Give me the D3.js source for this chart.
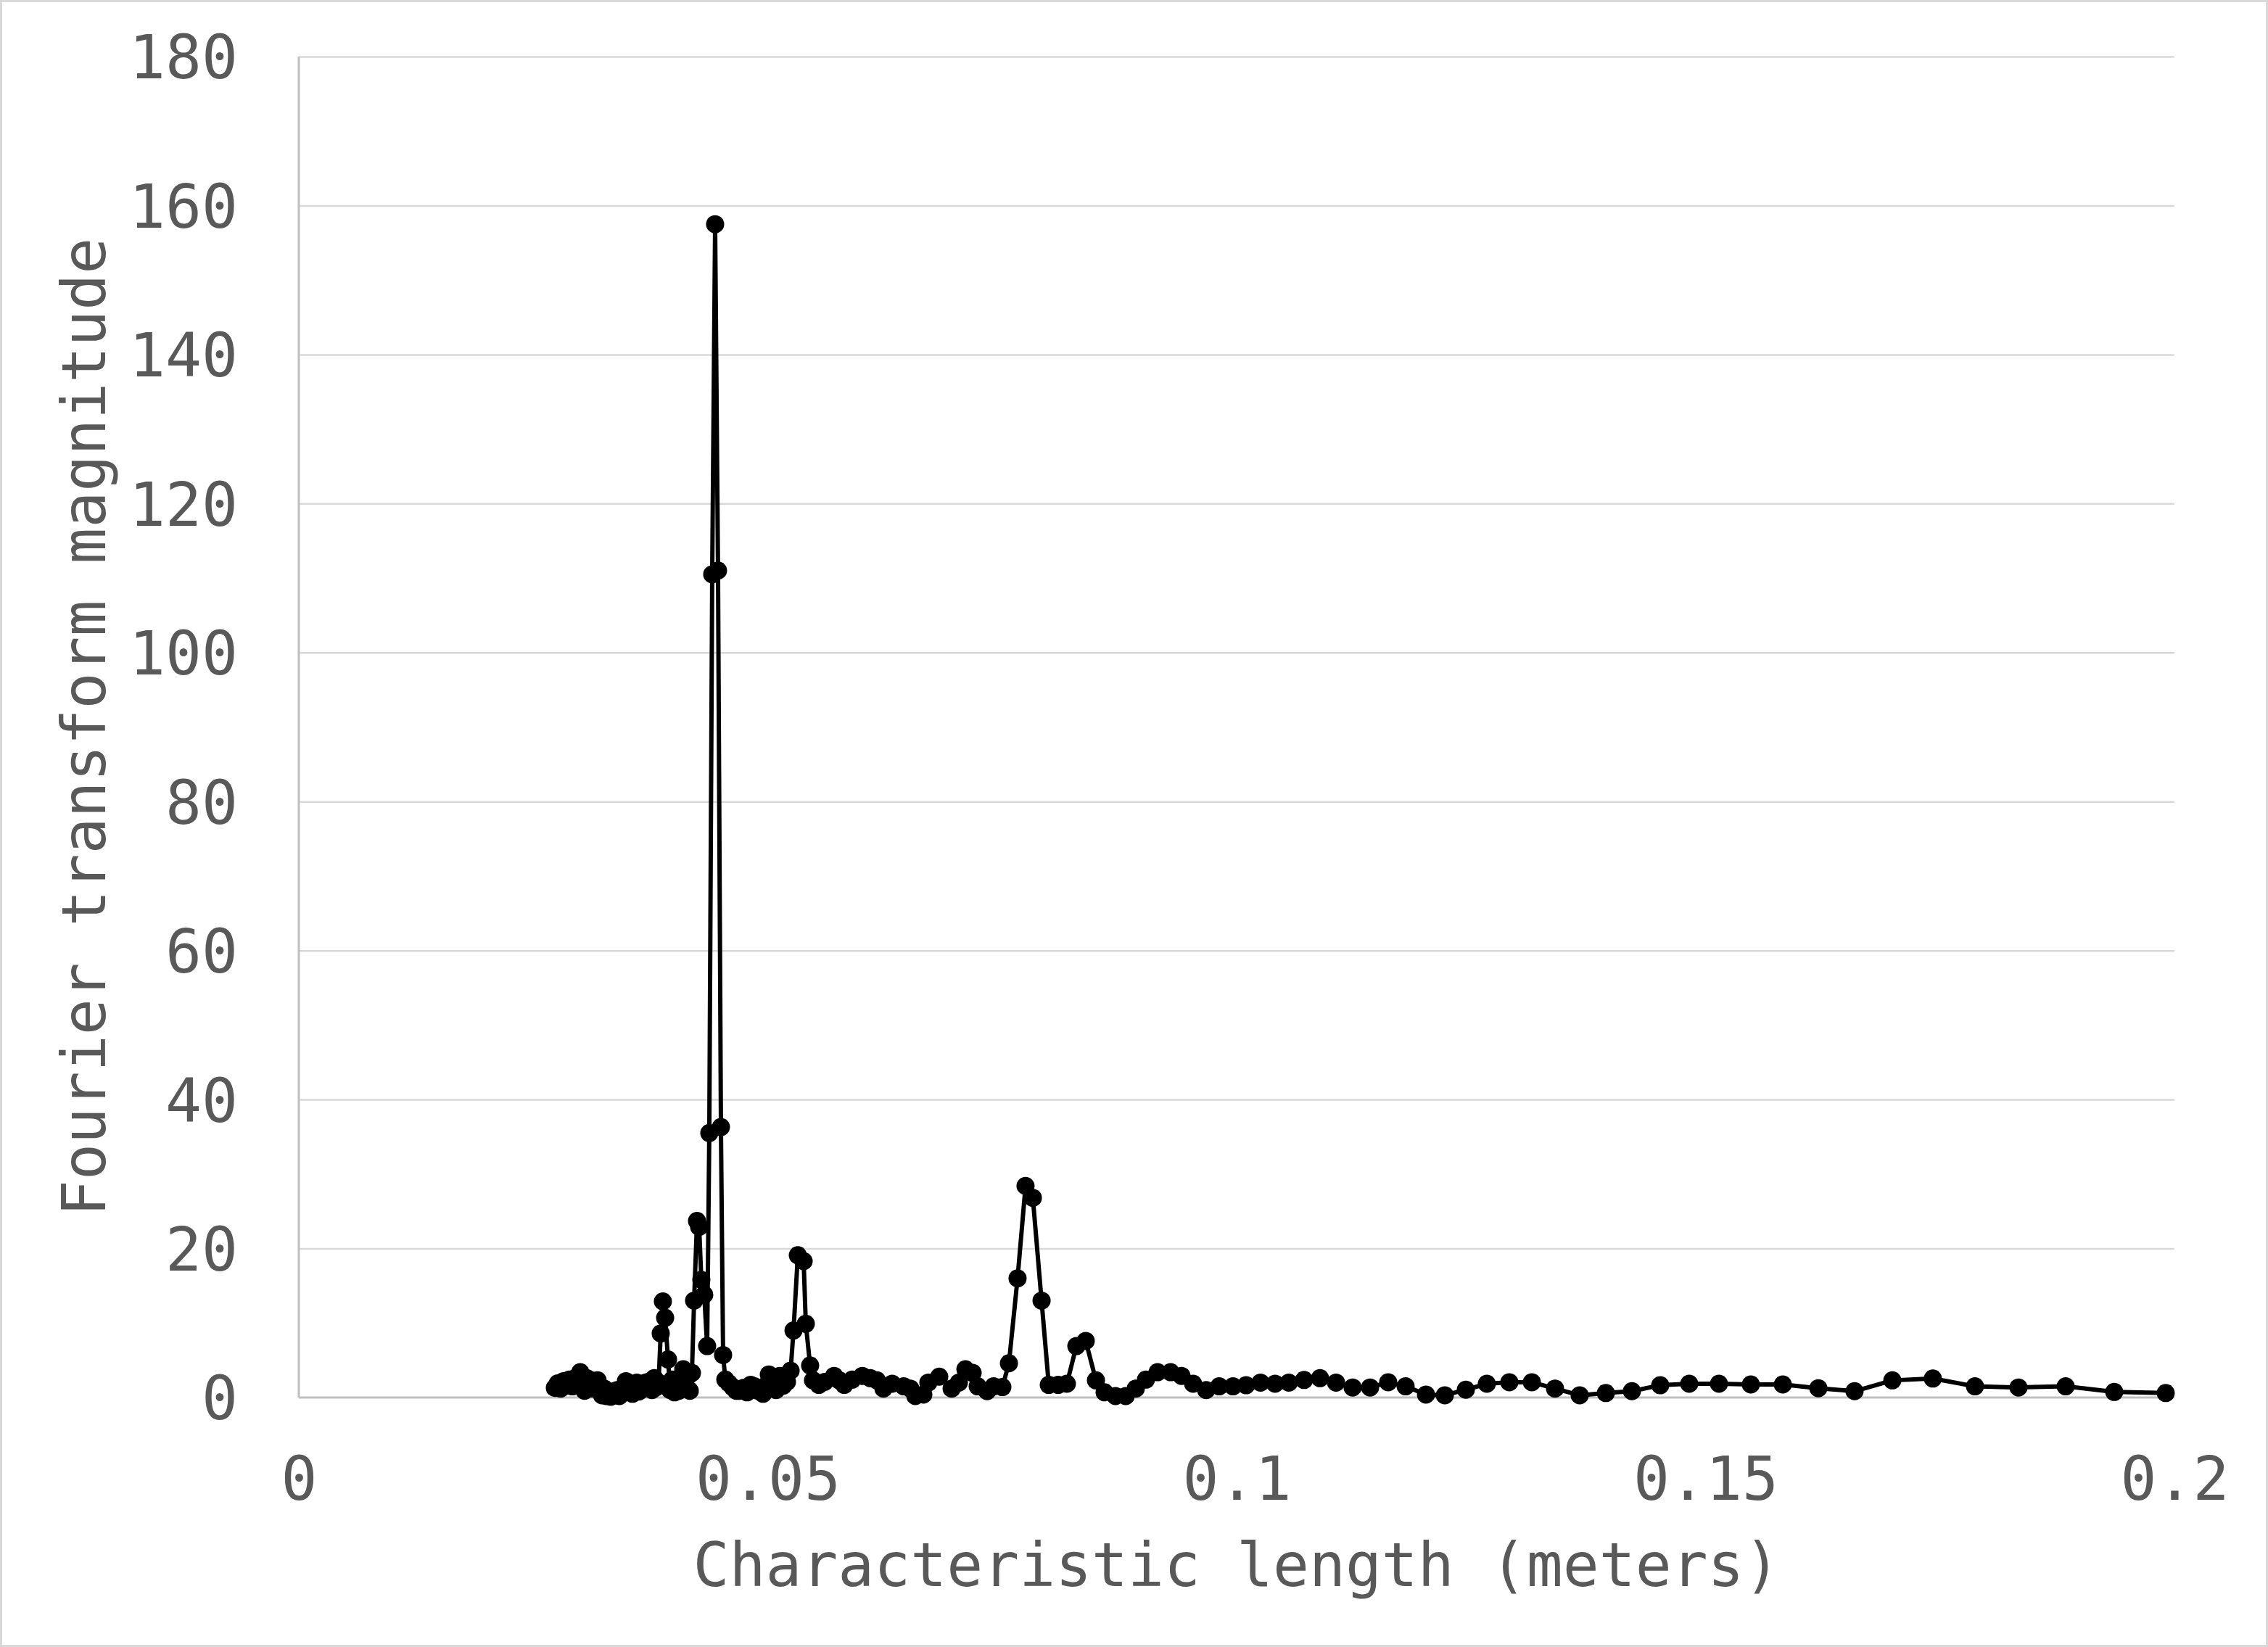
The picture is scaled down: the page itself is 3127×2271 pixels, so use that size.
<!DOCTYPE html>
<html>
<head>
<meta charset="utf-8">
<script src="https://cdn.jsdelivr.net/npm/d3@7"></script>
<style>
  html, body { margin: 0; padding: 0; background: #ffffff; }
  svg { display: block; }
</style>
</head>
<body>
<svg id="chart" width="3127" height="2271"></svg>
<script>
// Characteristic length (meters)
const lengths = [
  0.02730,0.02761,0.02792,0.02823,0.02854,0.02885,0.02916,0.02947,0.02978,
  0.03001,0.03024,0.03047,0.03070,0.03094,0.03117,0.03140,0.03163,0.03186,0.03210,
  0.03233,0.03256,0.03279,0.03302,0.03326,0.03349,0.03372,0.03395,0.03418,0.03442,
  0.03465,0.03488,0.03511,0.03534,0.03558,0.03581,0.03604,0.03627,0.03650,0.03674,
  0.03697,0.03720,0.03743,0.03766,0.03790,0.03813,0.03836,
  0.03859,0.03882,0.03906,0.03937,
  0.03960,0.03983,0.04006,0.04029,0.04053,0.04076,0.04099,0.04122,0.04145,0.04169,0.04192,
  0.04215,0.04246,0.04269,0.04292,0.04323,0.04354,0.04377,0.04408,0.04439,0.04470,0.04501,0.04524,0.04548,
  0.04586,0.04625,0.04664,0.04702,0.04741,0.04780,0.04818,0.04857,0.04896,0.04950,0.04981,0.05012,
  0.05050,0.05089,0.05128,0.05166,0.05205,0.05244,0.05275,0.05321,0.05383,0.05406,0.05452,0.05483,
  0.05545,0.05607,0.05708,0.05762,0.05816,0.05901,0.06009,0.06094,0.06164,0.06234,
  0.06327,0.06450,0.06520,0.06574,0.06659,0.06713,0.06829,0.06961,0.07038,0.07108,
  0.07185,0.07239,0.07340,0.07409,0.07502,0.07572,0.07664,0.07749,0.07827,0.07920,
  0.07997,0.08097,0.08190,0.08291,0.08391,0.08500,0.08592,0.08708,0.08817,0.08925,
  0.09033,0.09157,0.09296,0.09412,0.09536,0.09675,0.09814,0.09961,0.10101,0.10255,
  0.10410,0.10557,0.10719,0.10889,0.11060,0.11237,0.11423,0.11616,0.11802,0.12019,
  0.12220,0.12444,0.12668,0.12908,0.13148,0.13395,0.13658,0.13937,0.14215,0.14517,
  0.14826,0.15143,0.15483,0.15824,0.16203,0.16589,0.16992,0.17424,0.17873,0.18337,
  0.18840,0.19358,0.19907
];

// Fourier transform magnitude
const magnitudes = [
  1.3,1.9,1.2,2.2,1.6,2.4,1.5,2.6,2.0,
  3.4,2.2,0.9,2.6,1.8,2.3,1.2,2.0,2.3,1.0,
  0.3,1.2,0.2,0.6,0.1,0.8,0.3,1.0,0.2,0.6,
  1.4,2.2,1.0,1.7,0.5,1.4,2.0,0.8,1.6,1.2,
  2.0,1.4,2.2,1.0,2.6,1.4,2.0,
  8.6,12.9,10.7,5.1,
  1.0,2.4,0.7,1.5,0.9,2.0,3.8,1.4,2.8,0.9,3.3,
  13.0,23.7,22.9,15.8,13.8,6.9,35.5,110.5,157.5,111.0,36.3,5.7,2.4,
  1.9,1.4,0.9,0.9,1.3,0.7,1.7,1.5,0.9,0.5,1.6,3.1,
  2.0,1.0,2.9,1.6,2.1,3.6,9.0,19.1,18.3,9.9,4.3,2.3,
  1.7,2.1,2.9,2.3,1.7,2.4,2.9,2.6,2.3,1.2,
  1.85,1.5,1.2,0.2,0.4,2.0,2.8,1.2,2.0,3.8,
  3.3,1.5,0.85,1.5,1.4,4.6,16.0,28.4,26.8,13.0,
  1.7,1.7,1.85,6.9,7.6,2.3,0.7,0.2,0.2,1.2,
  2.4,3.4,3.4,2.9,1.85,1.0,1.5,1.5,1.65,2.0,
  1.85,2.0,2.35,2.6,2.0,1.35,1.35,2.05,1.5,0.4,
  0.3,1.05,1.85,2.05,2.05,1.2,0.3,0.6,0.85,1.65,
  1.85,1.85,1.75,1.75,1.25,0.85,2.3,2.55,1.5,1.35,
  1.5,0.75,0.6
];

const xTicks = [0, 0.05, 0.1, 0.15, 0.2];
const xTickLabels = ["0", "0.05", "0.1", "0.15", "0.2"];
const yTicks = [0, 20, 40, 60, 80, 100, 120, 140, 160, 180];
const xTitle = "Characteristic length (meters)";
const yTitle = "Fourier transform magnitude";

const W = 3127, H = 2271;
const plot = { left: 412, right: 2998, top: 78, bottom: 1927 };
const FONT = "'DejaVu Sans Mono', 'Liberation Mono', monospace";
const TEXT = "#595959";

const svg = d3.select("#chart");
svg.append("rect").attr("x", 0).attr("y", 0).attr("width", W).attr("height", H).attr("fill", "#ffffff");
svg.append("rect").attr("x", 1.5).attr("y", 1.5).attr("width", W - 3).attr("height", H - 3)
  .attr("fill", "none").attr("stroke", "#d9d9d9").attr("stroke-width", 3);

const x = d3.scaleLinear().domain([0, 0.2]).range([plot.left, plot.right]);
const y = d3.scaleLinear().domain([0, 180]).range([plot.bottom, plot.top]);

// horizontal gridlines
const yAxis = d3.axisLeft(y).tickValues(yTicks).tickSize(-(plot.right - plot.left)).tickFormat(d => d);
const gy = svg.append("g").attr("transform", `translate(${plot.left},0)`).call(yAxis);
gy.select(".domain").remove();
gy.selectAll(".tick line").attr("stroke", "#d9d9d9").attr("stroke-width", 2.5)
  .filter(d => d === 0).attr("stroke", "none");
gy.selectAll(".tick text")
  .attr("x", -(plot.left - 328)).attr("dy", "0.36em")
  .attr("text-anchor", "end")
  .style("font-family", FONT).style("font-size", "83px").attr("fill", TEXT);

// x axis labels
const xAxis = d3.axisBottom(x).tickValues(xTicks).tickSize(0).tickFormat((d, i) => xTickLabels[i]);
const gx = svg.append("g").attr("transform", `translate(0,${plot.bottom})`).call(xAxis);
gx.select(".domain").remove();
gx.selectAll(".tick text")
  .attr("y", 2068 - plot.bottom).attr("dy", 0)
  .attr("text-anchor", "middle")
  .style("font-family", FONT).style("font-size", "83px").attr("fill", TEXT);

// axis lines
svg.append("line").attr("x1", plot.left).attr("x2", plot.right).attr("y1", y(0)).attr("y2", y(0))
  .attr("stroke", "#bfbfbf").attr("stroke-width", 3);
svg.append("line").attr("x1", plot.left).attr("x2", plot.left).attr("y1", y(180)).attr("y2", y(0))
  .attr("stroke", "#bfbfbf").attr("stroke-width", 3);

// data
const data = lengths.map((l, i) => ({ x: l, y: magnitudes[i] })).filter(d => d.y !== undefined);

const line = d3.line().x(d => x(d.x)).y(d => y(d.y));
svg.append("path").datum(data).attr("d", line)
  .attr("fill", "none").attr("stroke", "#000000").attr("stroke-width", 6)
  .attr("stroke-linejoin", "round").attr("stroke-linecap", "round");

svg.append("g").selectAll("circle").data(data).join("circle")
  .attr("cx", d => x(d.x)).attr("cy", d => y(d.y)).attr("r", 12.5)
  .attr("fill", "#000000");

// axis titles
svg.append("text").attr("x", (plot.left + plot.right) / 2).attr("y", 2187)
  .attr("text-anchor", "middle")
  .style("font-family", FONT).style("font-size", "83px").attr("fill", TEXT)
  .text(xTitle);

svg.append("text")
  .attr("transform", `translate(145,${(plot.top + plot.bottom) / 2}) rotate(-90)`)
  .attr("text-anchor", "middle")
  .style("font-family", FONT).style("font-size", "83px").attr("fill", TEXT)
  .text(yTitle);
</script>
</body>
</html>
